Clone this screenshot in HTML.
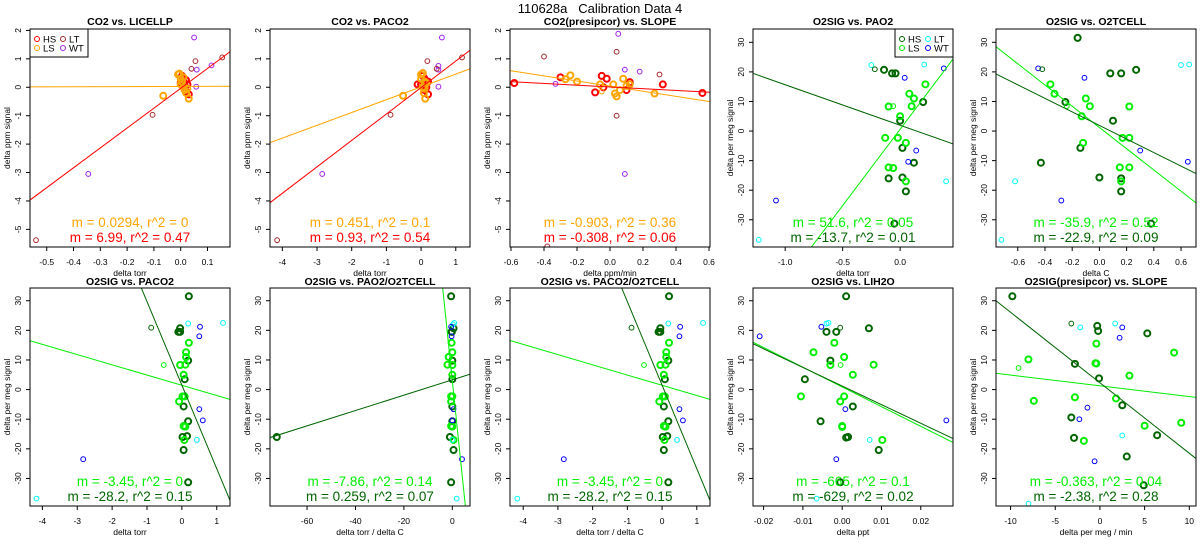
<!DOCTYPE html>
<html><head><meta charset="utf-8"><style>
html,body{margin:0;padding:0;background:#fff;}
svg{display:block;font-family:"Liberation Sans",sans-serif;}
</style></head><body>
<svg id="chart" width="1200" height="550" viewBox="0 0 1200 550" xmlns="http://www.w3.org/2000/svg">
<rect x="0" y="0" width="1200" height="550" fill="#fff"/>
<text x="600" y="13" text-anchor="middle" font-size="13">110628a&#160;&#160;&#160;Calibration Data 4</text>
</svg>
<script>
const panelTitles=["CO2 vs. LICELLP","CO2 vs. PACO2","CO2(presipcor) vs. SLOPE","O2SIG vs. PAO2","O2SIG vs. O2TCELL","O2SIG vs. PACO2","O2SIG vs. PAO2/O2TCELL","O2SIG vs. PACO2/O2TCELL","O2SIG vs. LIH2O","O2SIG(presipcor) vs. SLOPE"];
const xLabels=["delta torr","delta torr","delta ppm/min","delta torr","delta C","delta torr","delta torr / delta C","delta torr / delta C","delta ppt","delta per meg / min"];
const yLabels=["delta ppm signal","delta ppm signal","delta ppm signal","delta per meg signal","delta per meg signal","delta per meg signal","delta per meg signal","delta per meg signal","delta per meg signal","delta per meg signal"];
const xLims=[[-0.5625,0.184],[-4.355,1.41],[-0.606,0.606],[-1.28,0.46],[-0.76,0.71],[-4.355,1.38],[-75.3,7.3],[-4.38,1.38],[-0.0227,0.0282],[-11.63,10.75]];
const yLims=[[-5.62,2.05],[-5.62,2.05],[-5.62,2.05],[-39.2,34.5],[-39.2,34.5],[-39.3,34.3],[-39.3,34.3],[-39.3,34.3],[-39.3,34.3],[-39.3,34.3]];
const xTicks=[[-0.5,-0.4,-0.3,-0.2,-0.1,0,0.1],[-4,-3,-2,-1,0,1],[-0.6,-0.4,-0.2,0,0.2,0.4,0.6],[-1,-0.5,0],[-0.6,-0.4,-0.2,0,0.2,0.4,0.6],[-4,-3,-2,-1,0,1],[-60,-40,-20,0],[-4,-3,-2,-1,0,1],[-0.02,-0.01,0,0.01,0.02],[-10,-5,0,5,10]];
const xTickLabels=[["-0.5","-0.4","-0.3","-0.2","-0.1","0.0","0.1"],["-4","-3","-2","-1","0","1"],["-0.6","-0.4","-0.2","0.0","0.2","0.4","0.6"],["-1.0","-0.5","0.0"],["-0.6","-0.4","-0.2","0.0","0.2","0.4","0.6"],["-4","-3","-2","-1","0","1"],["-60","-40","-20","0"],["-4","-3","-2","-1","0","1"],["-0.02","-0.01","0.00","0.01","0.02"],["-10","-5","0","5","10"]];
const yTicksCO2=[-5,-4,-3,-2,-1,0,1,2];
const yTicksO2=[-30,-20,-10,0,10,20,30];
const slopesLS=[0.0294,0.451,-0.903,51.6,-35.9,-3.45,-7.86,-3.45,-665,-0.363];
const interceptsLS=[0.03,0.014,0.04,0.6,1.2,1.46,3,1.46,0.9,1.28];
const slopesHS=[6.99,0.93,-0.308,-13.7,-22.9,-28.2,0.259,-28.2,-629,-2.38];
const interceptsHS=[-0.036,-0.01,0.01,1.96,1.9,1.5,3.3,1.5,1.2,2.3];
const statLS=["m = 0.0294, r^2 = 0","m = 0.451, r^2 = 0.1","m = -0.903, r^2 = 0.36","m = 51.6, r^2 = 0.05","m = -35.9, r^2 = 0.52","m = -3.45, r^2 = 0","m = -7.86, r^2 = 0.14","m = -3.45, r^2 = 0","m = -665, r^2 = 0.1","m = -0.363, r^2 = 0.04"];
const statHS=["m = 6.99, r^2 = 0.47","m = 0.93, r^2 = 0.54","m = -0.308, r^2 = 0.06","m = -13.7, r^2 = 0.01","m = -22.9, r^2 = 0.09","m = -28.2, r^2 = 0.15","m = 0.259, r^2 = 0.07","m = -28.2, r^2 = 0.15","m = -629, r^2 = 0.02","m = -2.38, r^2 = 0.28"];
// groups: 0 HS thick, 1 LS thick, 2 LT thin, 3 WT thin, 4 HS thin, 5 LS thin
const pts1=[[0.05,1.75,3],[0.06,0.62,3],[0.115,0.77,3],[0.058,0.02,3],[-0.345,-3.05,3],[-0.54,-5.38,2],[-0.105,-0.97,2],[0.04,0.65,2],[0.055,0.92,2],[0.155,1.05,2],[-0.065,-0.3,1],[0,0.15,0],[0.01,0.3,0],[0.02,0.25,0],[0.025,0.1,0],[0.015,0.05,0],[0.03,-0.25,0],[0.005,0.4,0],[0.02,-0.15,0],[0.01,0.2,0],[-0.01,0.45,1],[-0.005,0.48,1],[0,0.3,1],[0.005,0.2,1],[0.01,0,1],[0.015,-0.1,1],[0.02,-0.2,1],[0.03,-0.4,1],[0,0.1,1],[0.01,0.35,1],[0.025,-0.05,1]];
const pts2=[[0.6,1.75,3],[0.5,0.75,3],[0.5,0.62,3],[0.5,0.02,3],[-2.85,-3.05,3],[-4.15,-5.38,2],[-0.88,-0.97,2],[0.45,0.65,2],[0.18,0.92,2],[1.18,1.05,2],[-0.52,-0.3,1],[0,0.1,0],[0.1,0.3,0],[0.2,0.2,0],[0.15,0,0],[0.2,-0.25,0],[0.05,0.4,0],[-0.1,0.1,0],[0.1,-0.1,0],[0.05,0.5,1],[0,0.3,1],[0.1,0.2,1],[0.05,0,1],[0.12,-0.4,1],[0.08,-0.2,1],[0.15,0.15,1],[0,0.45,1],[0.1,-0.05,1]];
const pts3=[[-0.58,0.15,0],[-0.3,0.35,0],[-0.05,0.4,0],[-0.04,0,0],[-0.02,0.3,0],[-0.09,-0.18,0],[0.1,-0.1,0],[0.12,0.18,0],[0.32,0.1,0],[0.56,-0.2,0],[-0.27,0.28,1],[-0.24,0.42,1],[-0.2,0.2,1],[-0.06,0.1,1],[0.02,0.1,1],[0.03,-0.22,1],[0.04,-0.32,1],[0.06,-0.1,1],[0.08,0.3,1],[0.1,0.05,1],[0.12,0.1,1],[0.27,-0.22,1],[-0.33,0.12,3],[0.05,1.88,3],[0.09,0.62,3],[0.18,0.55,3],[0.09,-3.05,3],[-0.4,1.08,2],[0.04,1.25,2],[0.04,-1,2],[0.3,0.45,2],[-0.38,-5.6,2],[-0.05,-0.15,5]];
const pts4=[[-0.14,20.7,0],[-0.07,19.5,0],[-0.04,19.5,0],[0,3.5,0],[0.02,-5.7,0],[0.12,-10.7,0],[-0.1,-16,0],[0.02,-15.7,0],[0.05,-20.4,0],[-0.05,-31.3,0],[0.2,9.8,0],[-0.1,8.3,1],[0,5,1],[0.08,12.6,1],[0.12,11,1],[0.1,8.4,1],[0.22,15.8,1],[-0.13,-2.3,1],[-0.02,-2.3,1],[0.05,-4,1],[-0.1,-12.3,1],[-0.06,-12.5,1],[0.05,-17,1],[-0.25,22.3,2],[0.21,22.5,2],[-1.23,-36.8,2],[0.4,-17,2],[0.04,18,3],[0.38,21.2,3],[0.14,-6.6,3],[0.07,-10.4,3],[-1.08,-23.5,3],[-0.22,20.9,4],[-0.06,8.4,5]];
const pts5=[[-0.16,31.5,0],[0.08,19.5,0],[0.16,19.5,0],[0.27,20.7,0],[-0.25,9.8,0],[0.1,3.5,0],[-0.14,-5.7,0],[-0.43,-10.7,0],[0,-15.7,0],[0.16,-16,0],[0.16,-20.4,0],[0.38,-31.3,0],[-0.36,15.8,1],[-0.33,12.6,1],[-0.1,11,1],[-0.07,8.4,1],[0.22,8.3,1],[-0.13,5,1],[0.17,-2.3,1],[0.22,-2.3,1],[-0.12,-4,1],[0.15,-12.3,1],[0.22,-12.3,1],[0.16,-17,1],[0.6,22.3,2],[0.66,22.5,2],[-0.62,-17,2],[-0.72,-36.8,2],[-0.45,21.2,3],[-0.11,18,3],[0.3,-6.6,3],[0.65,-10.4,3],[-0.28,-23.5,3],[-0.42,20.9,4],[-0.24,8.4,5]];
const pts6=[[0.2,31.5,0],[-0.05,20.7,0],[-0.1,19.5,0],[-0.05,19.5,0],[0.18,9.8,0],[0.08,3.5,0],[0.05,-5.7,0],[0.18,-10.7,0],[0.15,-15.7,0],[0.02,-16,0],[0.05,-20.4,0],[0.18,-31.3,0],[0.2,15.8,1],[0.12,12.6,1],[0.12,11,1],[0.1,8.4,1],[-0.05,8.3,1],[0.05,5,1],[0.02,-2.3,1],[0.08,-2.3,1],[-0.08,-4,1],[0.05,-12.3,1],[0.1,-12.5,1],[0.07,-17,1],[0.18,22.3,2],[1.18,22.5,2],[0.43,-17,2],[-4.17,-36.8,2],[0.52,21.2,3],[0.5,18,3],[0.5,-6.6,3],[0.6,-10.4,3],[-2.83,-23.5,3],[-0.88,20.9,4],[-0.52,8.3,5]];
const pts7=[[-0.5,31.5,0],[0.5,20.7,0],[-0.3,19.5,0],[-0.2,19.5,0],[0,9.8,0],[0,3.5,0],[0,-5.7,0],[0,-10.7,0],[-1,-16,0],[0.5,-20.4,0],[-0.5,-31.3,0],[-72.5,-16,0],[-0.3,15.8,1],[0,12.6,1],[-1.5,11,1],[-2,8.4,1],[0,8.3,1],[0,5,1],[0,-2.3,1],[-0.5,-2.3,1],[-0.5,-4,1],[-0.5,-12.3,1],[0.5,-17,1],[0,-12.5,1],[0.3,22,2],[0.8,22.5,2],[0,-17,2],[1.8,-36.8,2],[-0.5,21.2,3],[-0.3,18,3],[0.5,-6.6,3],[0,-10.4,3],[4,-23.5,3]];
const pts8=pts6;
const pts9=[[0.001,31.5,0],[0.0068,20.7,0],[-0.004,19.5,0],[-0.0015,19.5,0],[-0.003,9.8,0],[-0.0095,3.5,0],[0.0027,-5.7,0],[-0.0055,-10.7,0],[0.0015,-16,0],[0.001,-16.2,0],[0.0093,-20.4,0],[-0.0005,-31.3,0],[-0.002,15.8,1],[-0.0073,12.6,1],[0.0005,11,1],[0.008,8.4,1],[-0.003,8.3,1],[0.0027,5,1],[-0.0105,-2.3,1],[0.0005,-2.3,1],[-0.0005,-4,1],[0,-12.3,1],[0.0102,-17,1],[0,-12.6,1],[-0.004,22.3,2],[-0.0035,22.5,2],[0.007,-17,2],[-0.0065,-36.8,2],[-0.0053,21.2,3],[-0.021,18,3],[0.0008,-6.6,3],[0.0265,-10.4,3],[-0.0015,-23.5,3],[-0.0005,20.9,4],[-0.0004,8.3,5]];
const pts10=[[-9.8,31.5,0],[-0.3,21.5,0],[-0.2,19.8,0],[5.3,19,0],[-2.8,8.7,0],[-0.1,3.8,0],[2.5,-5.3,0],[-3.2,-9.4,0],[-2.9,-16.3,0],[6.4,-15.4,0],[3,-22.6,0],[4.9,-32.3,0],[-0.4,15.5,1],[8.3,12.5,1],[-8,10.2,1],[-0.5,8.9,1],[-0.4,8.8,1],[3.3,4.7,1],[1.8,-3,1],[-2.8,-2.6,1],[-7.4,-3.8,1],[5,-12.2,1],[9.1,-11.2,1],[-1.8,-17.3,1],[1.7,22.3,2],[-2.2,21,2],[2.5,-15.5,2],[-8,-38.5,2],[2.5,21,3],[2.2,17.5,3],[-1.4,-6.1,3],[-2.3,-10,3],[-0.6,-24.2,3],[-3.2,22.3,4],[-9.1,7.3,5]];
const allPts=[pts1,pts2,pts3,pts4,pts5,pts6,pts7,pts8,pts9,pts10];
const legendLabels=["HS","LS","LT","WT"];

const NS="http://www.w3.org/2000/svg";
const svg=document.getElementById('chart');
const lefts=[30,270,510,753,996];
const PW=200;
const colsCO2=["#ff0000","#ffa500","#a52a2a","#a020f0","#ff0000","#ffa500"];
const colsO2=["#006400","#00ee00","#00ffff","#0000ff","#006400","#00ee00"];
function mk(tag,attrs,parent){const e=document.createElementNS(NS,tag);for(const k in attrs)e.setAttribute(k,attrs[k]);(parent||svg).appendChild(e);return e;}

for(let i=0;i<10;i++){
  const row=i<5?0:1, col=i%5;
  const L=lefts[col], R=L+PW, T=row?288:29, B=row?506:247;
  const [x0,x1]=xLims[i],[y0,y1]=yLims[i];
  const sx=v=>L+(v-x0)/(x1-x0)*(R-L);
  const sy=v=>B-(v-y0)/(y1-y0)*(B-T);
  const cols=i<3?colsCO2:colsO2;
  const g=mk('g',{});
  
  
  const clipId='clip'+i;
  const cp=mk('clipPath',{id:clipId},g);mk('rect',{x:L,y:T,width:R-L,height:B-T},cp);
  const t=mk('text',{x:(L+R)/2,y:row?285:25,'text-anchor':'middle','font-size':10.5,'font-weight':'bold'},g);
  t.textContent=panelTitles[i];
  
  
  xTicks[i].forEach((v,k)=>{const X=sx(v);
    mk('line',{x1:X,x2:X,y1:B,y2:B+4,stroke:'#000'},g);
    const tl=mk('text',{x:X,y:B+18,'text-anchor':'middle','font-size':8.5},g);tl.textContent=xTickLabels[i][k];
    
    });
  const xl=mk('text',{x:(L+R)/2,y:B+29,'text-anchor':'middle','font-size':8.5},g);xl.textContent=xLabels[i];
  
  
  const yt=i<3?yTicksCO2:yTicksO2;
  yt.forEach(v=>{const Y=sy(v);
    mk('line',{x1:L-4,x2:L,y1:Y,y2:Y,stroke:'#000'},g);
    const tl=mk('text',{x:L-9,y:Y,'text-anchor':'middle','font-size':8.5,transform:`rotate(-90 ${L-9} ${Y})`},g);tl.textContent=String(v);
    
    });
  const yx=L-20,yy=(T+B)/2;
  const yl=mk('text',{x:yx,y:yy,'text-anchor':'middle','font-size':8.5,transform:`rotate(-90 ${yx} ${yy})`},g);yl.textContent=yLabels[i];
  
  
  const cg=mk('g',{'clip-path':`url(#${clipId})`},g);
  allPts[i].forEach(p=>{const gr=p[2];const thick=(gr===0||gr===1);
    const c=mk('circle',{cx:sx(p[0]),cy:sy(p[1]),r:thick?3:2.4,fill:'none',stroke:cols[gr],'stroke-width':thick?2:1},cg);
    
    });
  [[slopesLS[i],interceptsLS[i],cols[1],'fit-line-ls'],[slopesHS[i],interceptsHS[i],cols[0],'fit-line-hs']].forEach(([m,b,c,n])=>{
    const ln=mk('line',{x1:sx(x0),y1:sy(b+m*x0),x2:sx(x1),y2:sy(b+m*x1),stroke:c,'stroke-width':1},cg);
    
    });
  const s1=mk('text',{x:(L+R)/2,y:B-20,'text-anchor':'middle','font-size':13.5,fill:cols[1]},g);s1.textContent=statLS[i];
  
  
  const s2=mk('text',{x:(L+R)/2,y:B-5,'text-anchor':'middle','font-size':13.5,fill:cols[0]},g);s2.textContent=statHS[i];
  
  
  mk('rect',{x:L,y:T,width:R-L,height:B-T,fill:'none',stroke:'#000','stroke-width':1},g);
  if(i===0||i===3){
    const lx=i===0?L:R-58;
    const lg=mk('g',{},g);
    
    
    mk('rect',{x:lx,y:T,width:58,height:28,fill:'#fff',stroke:'#000'},lg);
    legendLabels.forEach((lab,k)=>{const ex=lx+7+(k>>1)*26, ey=T+10+(k&1)*9;
      mk('circle',{cx:ex,cy:ey,r:2.5,fill:'none',stroke:cols[k]},lg);
      const lt=mk('text',{x:ex+6,y:ey+3.5,'font-size':9.5},lg);lt.textContent=lab;
      
      });
  }
}
</script>
</body></html>
